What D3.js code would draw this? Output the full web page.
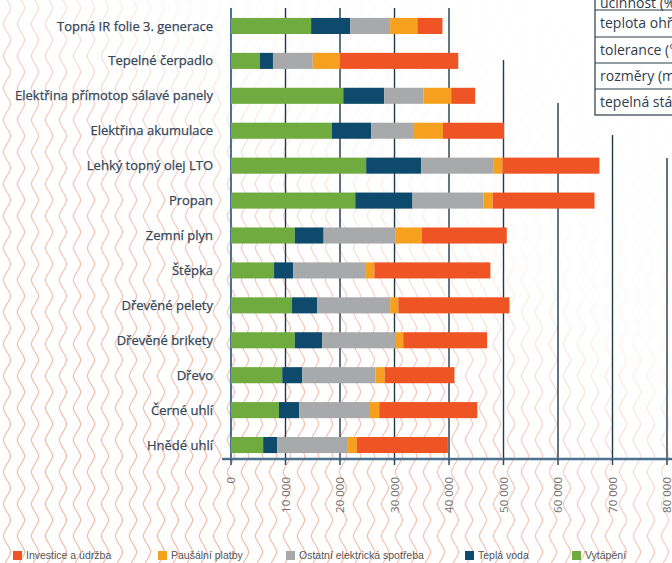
<!DOCTYPE html>
<html><head><meta charset="utf-8">
<script src="https://cdn.jsdelivr.net/npm/d3@7/dist/d3.min.js"></script>
<style>
html,body{margin:0;padding:0;background:#fff;}
svg{display:block;}
</style></head>
<body>
<svg id="chart" width="672" height="563"></svg>
<script>
// ---- data ----
const categories = [
  "Topná IR folie 3. generace",
  "Tepelné čerpadlo",
  "Elektřina přímotop sálavé panely",
  "Elektřina akumulace",
  "Lehký topný olej LTO",
  "Propan",
  "Zemní plyn",
  "Štěpka",
  "Dřevěné pelety",
  "Dřevěné brikety",
  "Dřevo",
  "Černé uhlí",
  "Hnědé uhlí"
];
const seriesNames = ["Vytápění","Teplá voda","Ostatní elektrická spotřeba","Paušální platby","Investice a údržba"];
const vytapeni   = [14700, 5300, 20600, 18500, 24800, 22800, 11700, 7900, 11200, 11700, 9400, 8800, 5900];
const teplaVoda  = [ 7200, 2400,  7500,  7200, 10100, 10500,  5300, 3500,  4600,  5000, 3700, 3700, 2600];
const ostatni    = [ 7300, 7300,  7200,  7700, 13200, 13000, 13200,13200, 13400, 13400,13400,13000,12800];
const pausalni   = [ 5000, 5000,  5100,  5500,  1700,  1700,  4800, 1700,  1500,  1500, 1700, 1700, 1800];
const investice  = [ 4600,21700,  4400, 11200, 17800, 18700, 15600,21300, 20400, 15400,12800,18000,16700];
const xTicks = [0,10000,20000,30000,40000,50000,60000,70000,80000];
const legendOrder = ["Investice a údržba","Paušální platby","Ostatní elektrická spotřeba","Teplá voda","Vytápění"];
const tableRows = ["účinnost (%)","teplota ohřevu","tolerance (°C)","rozměry (mm)","tepelná stálost"];

// ---- style ----
const colors = {
  "Vytápění":"#6fab3e",
  "Teplá voda":"#0d4a6b",
  "Ostatní elektrická spotřeba":"#a8a9ab",
  "Paušální platby":"#f5a01e",
  "Investice a údržba":"#ef5524"
};
const gridTopY = [8, 8, 8, 8, 8, 60, 103, 135, 158];
const legendX = [13, 158, 286, 465, 572];

const svg = d3.select("#chart");
const W = 672, H = 563;

// background wavy pattern
const defs = svg.append("defs");
const pat = defs.append("pattern").attr("id","waves").attr("patternUnits","userSpaceOnUse")
  .attr("width",14).attr("height",32);
pat.append("path").attr("d","M7,0 C12,8 12,8 7,16 C2,24 2,24 7,32")
  .attr("fill","none").attr("stroke","#efb5a0").attr("stroke-width",1.1);
const grad = defs.append("linearGradient").attr("id","fade")
  .attr("x1","0.95").attr("y1","0").attr("x2","0.2").attr("y2","0.85");
grad.append("stop").attr("offset","0").attr("stop-color","#fff").attr("stop-opacity",0);
grad.append("stop").attr("offset","0.4").attr("stop-color","#fff").attr("stop-opacity",0.15);
grad.append("stop").attr("offset","0.65").attr("stop-color","#fff").attr("stop-opacity",0.8);
grad.append("stop").attr("offset","1").attr("stop-color","#fff").attr("stop-opacity",1);
const mask = defs.append("mask").attr("id","fadeMask");
mask.append("rect").attr("width",W).attr("height",H).attr("fill","url(#fade)");
svg.append("rect").attr("width",W).attr("height",H).attr("fill","#fff");
svg.append("rect").attr("width",W).attr("height",H).attr("fill","url(#waves)").attr("mask","url(#fadeMask)");

// scales
const x = d3.scaleLinear().domain([0,80000]).range([231,667]);
const y = d3.scaleBand().domain(categories).range([8.5,462.5]).paddingInner(0.54).paddingOuter(0.27);

// gridlines
svg.append("g").selectAll("line").data(xTicks).join("line")
  .attr("x1",d=>x(d)).attr("x2",d=>x(d))
  .attr("y1",(d,i)=>gridTopY[i]).attr("y2",459)
  .attr("stroke",(d,i)=> i===0 ? "#4d7290" : "#22394b").attr("stroke-width",(d,i)=> i===0 ? 2 : 1.4);

// stacked bars
const table = categories.map((c,i)=>({
  cat:c,
  "Vytápění":vytapeni[i],
  "Teplá voda":teplaVoda[i],
  "Ostatní elektrická spotřeba":ostatni[i],
  "Paušální platby":pausalni[i],
  "Investice a údržba":investice[i]
}));
const stack = d3.stack().keys(seriesNames)(table);
svg.append("g").selectAll("g").data(stack).join("g")
  .attr("fill",s=>colors[s.key])
  .selectAll("rect").data(s=>s).join("rect")
  .attr("x",d=>x(d[0])).attr("width",d=>x(d[1])-x(d[0]))
  .attr("y",d=>y(d.data.cat)).attr("height",y.bandwidth());

// x axis
svg.append("line").attr("x1",222).attr("x2",W).attr("y1",459).attr("y2",459)
  .attr("stroke","#4d7290").attr("stroke-width",2.5);
svg.append("g").selectAll("line").data(xTicks).join("line")
  .attr("x1",d=>x(d)).attr("x2",d=>x(d)).attr("y1",459).attr("y2",465)
  .attr("stroke","#2c4a63").attr("stroke-width",1.5);
const fmt = d => d===0 ? "0" : d3.format(",")(d).replace(/,/g," ");
svg.append("g").selectAll("text").data(xTicks).join("text")
  .attr("transform",d=>`translate(${x(d)},477) rotate(-90)`)
  .attr("dy","0.35em").attr("text-anchor","end")
  .attr("font-family","'Open Sans', sans-serif").attr("font-size",11.5)
  .attr("fill","#6e6e6e").text(fmt);

// y labels
svg.append("g").selectAll("text").data(categories).join("text")
  .attr("x",213).attr("y",d=>y(d)+y.bandwidth()/2).attr("dy","0.35em")
  .attr("text-anchor","end")
  .attr("font-family","'Open Sans', sans-serif").attr("font-size",13)
  .attr("fill","#34475a").attr("stroke","#34475a").attr("stroke-width",0.25)
  .text(d=>d);

// legend
const lg = svg.append("g").selectAll("g").data(legendOrder).join("g")
  .attr("transform",(d,i)=>`translate(${legendX[i]},551)`);
lg.append("rect").attr("width",9).attr("height",9).attr("fill",d=>colors[d]);
lg.append("text").attr("x",13).attr("y",4.5).attr("dy","0.35em")
  .attr("font-family","'Liberation Sans', Arial, sans-serif").attr("font-size",10.5)
  .attr("fill","#555").text(d=>d);

// table fragment (top right)
const tg = svg.append("g");
tg.append("rect").attr("x",595).attr("y",-20).attr("width",90).attr("height",135)
  .attr("fill","#fff").attr("stroke","#2c3a46").attr("stroke-width",1.2);
const rowLines = [10,37,63,89];
tg.selectAll("line").data(rowLines).join("line")
  .attr("x1",595).attr("x2",W).attr("y1",d=>d).attr("y2",d=>d)
  .attr("stroke","#2c3a46").attr("stroke-width",1);
tg.selectAll("text").data(tableRows).join("text")
  .attr("x",600).attr("y",(d,i)=> i===0 ? 3 : rowLines[i-1]+13.5).attr("dy","0.35em")
  .attr("font-family","'Open Sans', sans-serif").attr("font-size",14)
  .attr("fill","#2f3d4a").text(d=>d);
</script>
</body></html>
